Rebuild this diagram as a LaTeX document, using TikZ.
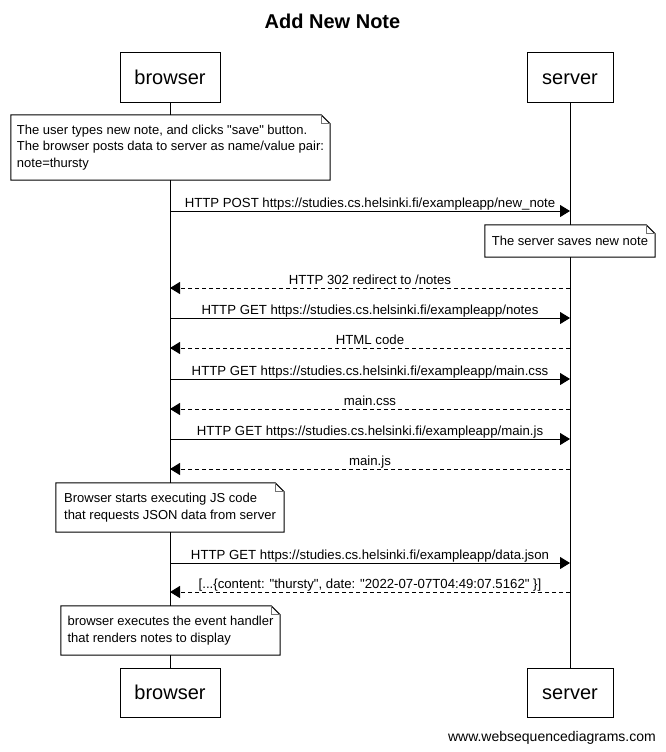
\documentclass[tikz,border=0pt]{standalone}
\usepackage{fontspec}
\setmainfont{Liberation Sans}[Ligatures=TeXOff]
\usetikzlibrary{arrows.meta}

% outline of a note with a folded top-right corner
\newcommand\dogear[1]{%
  \draw[noteline] (#1.north west) -- ([xshift=-9pt]#1.north east)
    -- ([yshift=-9pt]#1.north east) -- (#1.south east)
    -- (#1.south west) -- cycle;
  \draw[foldline] ([xshift=-9pt]#1.north east) |- ([yshift=-9pt]#1.north east);
}

\begin{document}
\begin{tikzpicture}[x=1pt,y=-1pt,
  actor/.style={draw, line width=1pt, minimum width=#1, minimum height=49pt,
    inner sep=0pt, font=\fontsize{20}{24}\selectfont,
    text height=14.5pt, text depth=0pt},
  lifeline/.style={line width=1pt},
  notebox/.style={fill=white, inner sep=0pt, align=left,
    font=\fontsize{13}{16.5}\selectfont},
  noteline/.style={line width=1pt},
  foldline/.style={line width=0.8pt, draw=black!55},
  call/.style={line width=1pt, -{Triangle[length=10pt,width=12pt]}},
  reply/.style={call, dash pattern=on 4pt off 3pt},
  msg/.style={anchor=base, inner sep=0pt, font=\fontsize{13.2}{16}\selectfont},
]
\useasboundingbox (0,0) rectangle (665,752);

% title
\node[anchor=base, inner sep=0pt, font=\bfseries\fontsize{20}{24}\selectfont]
  (title) at (332.5,29) {Add New Note};

% participants
\node[actor=100pt] (btop) at (170,77.5) {browser};
\node[actor=86pt]  (stop) at (570,77.5) {server};
\node[actor=100pt] (bbot) at (170,692.5) {browser};
\node[actor=86pt]  (sbot) at (570,692.5) {server};

% lifelines
\draw[lifeline] (btop.south) -- (bbot.north);
\draw[lifeline] (stop.south) -- (sbot.north);

% message end points on the lifelines
\foreach \i/\y in {1/211,2/288,3/318,4/348,5/379,6/409,7/439,8/469,9/563,10/592}{
  \coordinate (b\i) at (170,\y);
  \coordinate (s\i) at (570,\y);
}

% notes
\node[notebox, minimum width=319pt, minimum height=65pt] (n1) at (170.5,147.5)
  {The user types new note, and clicks "save" button.\\
   The browser posts data to server as name/value pair:\\
   note=thursty};
\dogear{n1}

\node[notebox, minimum width=170pt, minimum height=32pt] (n2) at (570,241)
  {The server saves new note};
\dogear{n2}

\node[notebox, minimum width=228pt, minimum height=49pt] (n3) at (170,507.5)
  {Browser starts executing JS code\\
   that requests JSON data from server};
\dogear{n3}

\node[notebox, minimum width=219pt, minimum height=49pt] (n4) at (170.5,630.5)
  {browser executes the event handler\\
   that renders notes to display};
\dogear{n4}

% messages
\draw[call]  (b1) -- (s1);
\node[msg] (m1) at (370,207) {HTTP POST https://studies.cs.helsinki.fi/exampleapp/new\_note};
\draw[reply] (s2) -- (b2);
\node[msg] (m2) at (370,284) {HTTP 302 redirect to /notes};
\draw[call]  (b3) -- (s3);
\node[msg] (m3) at (370,314) {HTTP GET https://studies.cs.helsinki.fi/exampleapp/notes};
\draw[reply] (s4) -- (b4);
\node[msg] (m4) at (370,344) {HTML code};
\draw[call]  (b5) -- (s5);
\node[msg] (m5) at (370,375) {HTTP GET https://studies.cs.helsinki.fi/exampleapp/main.css};
\draw[reply] (s6) -- (b6);
\node[msg] (m6) at (370,405) {main.css};
\draw[call]  (b7) -- (s7);
\node[msg] (m7) at (370,435) {HTTP GET https://studies.cs.helsinki.fi/exampleapp/main.js};
\draw[reply] (s8) -- (b8);
\node[msg] (m8) at (370,465) {main.js};
\draw[call]  (b9) -- (s9);
\node[msg] (m9) at (370,559) {HTTP GET https://studies.cs.helsinki.fi/exampleapp/data.json};
\draw[reply] (s10) -- (b10);
\node[msg] (m10) at (370,588) {[...\{content: "thursty", date: "2022-07-07T04:49:07.5162" \}]};

% credit line
\node[anchor=base east, inner sep=0pt, font=\fontsize{14}{16}\selectfont]
  (credit) at (656,741) {www.websequencediagrams.com};
\end{tikzpicture}
\end{document}
